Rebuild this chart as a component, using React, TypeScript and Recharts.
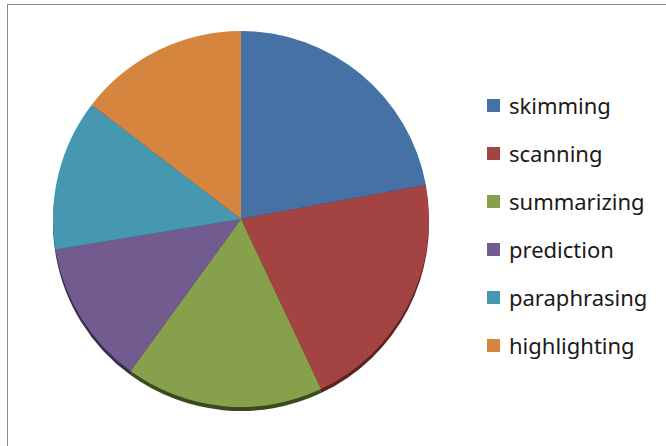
import { PieChart, Pie, Cell, Legend } from 'recharts'

const categories = ['skimming', 'scanning', 'summarizing', 'prediction', 'paraphrasing', 'highlighting']
const shares = [22.1, 20.9, 17.0, 12.4, 13.0, 14.6]

const COLORS = ['#4671a5', '#a44442', '#86a04c', '#725b8f', '#4598af', '#d6853f']
const SHADOW = ['#23395a', '#5a2221', '#3a4a1e', '#3a2d4e', '#22505e', '#6e4420']

const data = categories.map((name, i) => ({ name, value: shares[i] }))

function LegendList() {
  return (
    <div style={{ fontFamily: '"Noto Sans", sans-serif', fontSize: 22, color: '#1a1a1a' }}>
      {categories.map((name, i) => (
        <div key={name} style={{ display: 'flex', alignItems: 'center', height: 48 }}>
          <span style={{ width: 13, height: 13, background: COLORS[i], marginRight: 9, display: 'inline-block' }} />
          <span>{name}</span>
        </div>
      ))}
    </div>
  )
}

export default function App() {
  return (
    <div style={{ position: 'absolute', left: 0, top: 0, width: 666, height: 446, background: '#fff', overflow: 'hidden' }}>
      <div style={{ position: 'absolute', left: 7, top: 4, width: 700, height: 500, border: '1.5px solid #8a8a8a' }} />
      <div style={{ position: 'absolute', left: 0, top: 0 }}>
        <PieChart width={666} height={446} margin={{ top: 0, right: 0, bottom: 0, left: 0 }}>
          {/* shadow */}
          <Pie
            data={data}
            dataKey="value"
            cx={241}
            cy={223}
            outerRadius={188}
            startAngle={90}
            endAngle={-270}
            stroke="none"
            isAnimationActive={false}
          >
            {data.map((d, i) => <Cell key={d.name} fill={SHADOW[i]} />)}
          </Pie>
          <Pie
            data={data}
            dataKey="value"
            cx={241}
            cy={219}
            outerRadius={188}
            startAngle={90}
            endAngle={-270}
            stroke="none"
            isAnimationActive={false}
          >
            {data.map((d, i) => <Cell key={d.name} fill={COLORS[i]} />)}
          </Pie>
          <Legend
            layout="vertical"
            content={() => <LegendList />}
            wrapperStyle={{ position: 'absolute', left: 487, top: 81, width: 180 }}
          />
        </PieChart>
      </div>
    </div>
  )
}
